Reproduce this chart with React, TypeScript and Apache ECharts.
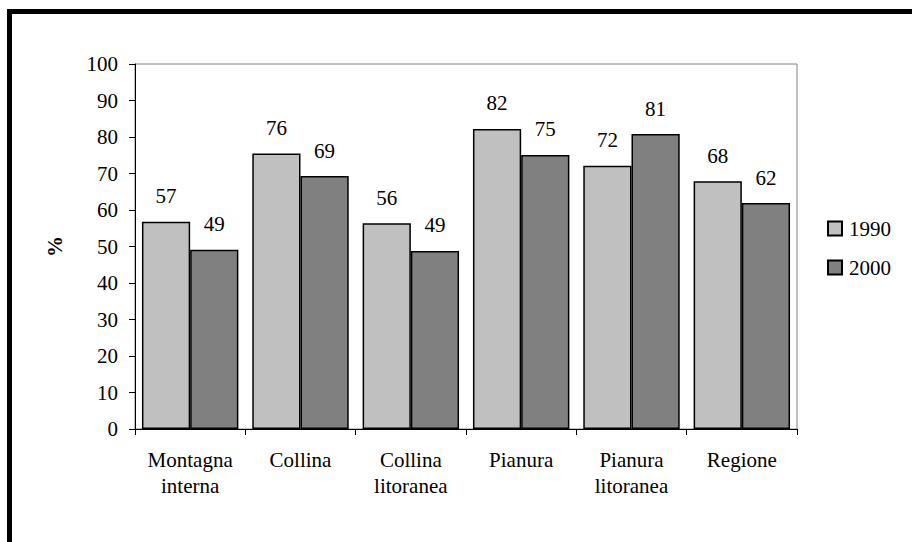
import React, { useEffect, useRef } from "react";
import * as echarts from "echarts";

const categories = [
  "Montagna\ninterna",
  "Collina",
  "Collina\nlitoranea",
  "Pianura",
  "Pianura\nlitoranea",
  "Regione",
];
const seriesNames = ["1990", "2000"];
const values1990 = [56.8, 75.5, 56.4, 82.2, 72.1, 67.9];
const values2000 = [49.1, 69.3, 48.8, 75.1, 80.8, 61.9];
const titleText = "Rapporto SAU/SAT per zona altimetrica (1990, 2000)";
const yAxisName = "%";

const FONT = "Liberation Serif";

export default function App() {
  const ref = useRef<HTMLDivElement>(null);

  useEffect(() => {
    if (!ref.current) return;
    const chart = echarts.init(ref.current, null, { renderer: "svg" });
    const labelCfg = {
      show: true,
      position: "top",
      distance: 15,
      fontFamily: FONT,
      fontSize: 21,
      color: "#000",
      formatter: (p: any) => String(Math.round(p.value)),
    };
    chart.setOption({
      animation: false,
      backgroundColor: "#fff",
      textStyle: { fontFamily: FONT, color: "#000", fontSize: 21 },
      grid: {
        left: 135,
        right: 115,
        top: 64,
        bottom: 113,
        show: true,
        borderColor: "#808080",
        borderWidth: 1,
        backgroundColor: "transparent",
      },
      legend: {
        orient: "vertical",
        left: 822,
        top: 213,
        itemWidth: 14,
        itemHeight: 14,
        itemGap: 18,
        icon: "rect",
        data: seriesNames,
        textStyle: {
          fontFamily: FONT,
          fontSize: 21,
          color: "#000",
          lineHeight: 21,
          padding: [0, 0, 0, 2],
        },
      },
      xAxis: {
        type: "category",
        data: categories,
        axisLine: { show: true, lineStyle: { color: "#000", width: 1 } },
        axisTick: { show: true, length: 6, lineStyle: { color: "#000" } },
        axisLabel: {
          interval: 0,
          fontFamily: FONT,
          fontSize: 21,
          color: "#000",
          lineHeight: 26,
          margin: 18,
        },
        splitLine: { show: false },
      },
      yAxis: {
        type: "value",
        min: 0,
        max: 100,
        interval: 10,
        name: yAxisName,
        nameLocation: "middle",
        nameRotate: 90,
        nameGap: 66,
        nameTextStyle: {
          fontFamily: FONT,
          fontSize: 21,
          fontWeight: "bold",
          color: "#000",
          padding: [0, 0, 4, 0],
        },
        axisLine: { show: true, lineStyle: { color: "#000", width: 1 } },
        axisTick: { show: true, length: 6, lineStyle: { color: "#000" } },
        axisLabel: {
          fontFamily: FONT,
          fontSize: 21,
          color: "#000",
          margin: 17,
        },
        splitLine: { show: false },
      },
      series: [
        {
          name: seriesNames[0],
          type: "bar",
          data: values1990,
          barGap: "0%",
          barCategoryGap: "12.6%",
          itemStyle: { color: "#C0C0C0", borderColor: "#000", borderWidth: 1.5 },
          label: labelCfg,
        },
        {
          name: seriesNames[1],
          type: "bar",
          data: values2000,
          barGap: "0%",
          barCategoryGap: "12.6%",
          itemStyle: { color: "#808080", borderColor: "#000", borderWidth: 1.5 },
          label: labelCfg,
        },
      ],
      graphic: [
        {
          type: "text",
          left: 246,
          top: -25,
          silent: true,
          style: {
            text: titleText,
            fontFamily: FONT,
            fontSize: 24,
            fontWeight: "bold",
            fill: "#000",
          },
        },
        {
          type: "rect",
          silent: true,
          shape: { x: 9.5, y: 11.5, width: 1000, height: 1000 },
          style: { fill: "none", stroke: "#000", lineWidth: 5 },
        },
      ],
    });
    return () => chart.dispose();
  }, []);

  return (
    <div
      ref={ref}
      style={{ position: "absolute", left: 0, top: 0, width: 912, height: 542 }}
    />
  );
}
